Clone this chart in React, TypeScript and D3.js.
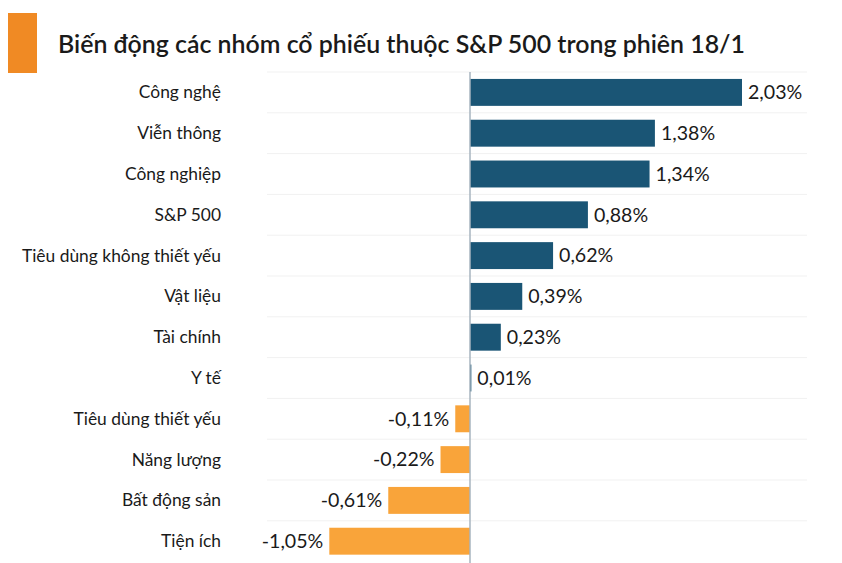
import React from "react";
import * as d3 from "d3";

const categories = [
  "Công nghệ",
  "Viễn thông",
  "Công nghiệp",
  "S&P 500",
  "Tiêu dùng không thiết yếu",
  "Vật liệu",
  "Tài chính",
  "Y tế",
  "Tiêu dùng thiết yếu",
  "Năng lượng",
  "Bất động sản",
  "Tiện ích",
];
const values = [2.03, 1.38, 1.34, 0.88, 0.62, 0.39, 0.23, 0.01, -0.11, -0.22, -0.61, -1.05];
const title = "Biến động các nhóm cổ phiếu thuộc S&P 500 trong phiên 18/1";

const W = 842;
const H = 563;
const FONT = "Lato, 'Noto Sans', sans-serif";

export default function App() {
  const zeroX = 470;
  const x = d3.scaleLinear().domain([0, 2.03]).range([zeroX, 742]);
  const y = d3
    .scaleBand<string>()
    .domain(categories)
    .range([72, 72 + 12 * 40.8])
    .paddingInner(0.34)
    .paddingOuter(0.17);
  const step = y.step();
  const fmt = (v: number) => d3.format(".2f")(v).replace(".", ",").replace("−", "-") + "%";

  return (
    <svg width={W} height={H} style={{ position: "absolute", left: 0, top: 0, background: "#fff" }}>
      <rect x={8} y={13} width={29} height={60} fill="#f08a24" />
      <text x={58} y={53} fontFamily={FONT} fontSize={24.9} fontWeight={600} fill="#1a1a1a">
        {title}
      </text>
      {categories.map((c, i) => {
        const top = 72 + i * step;
        return (
          <line key={"g" + i} x1={267} x2={807} y1={top} y2={top} stroke="#f1f1f1" strokeWidth={1} />
        );
      })}
      {categories.map((c, i) => {
        const v = values[i];
        const y0 = y(c)!;
        const bh = y.bandwidth();
        const cy = y0 + bh / 2;
        const x0 = Math.min(x(0), x(v));
        const w = Math.abs(x(v) - x(0));
        const pos = v >= 0;
        return (
          <g key={c}>
            <text
              x={221}
              y={cy}
              dy="0.35em"
              textAnchor="end"
              fontFamily={FONT}
              fontSize={17.4}
              fill="#1a1a1a"
            >
              {c}
            </text>
            <rect x={x0} y={y0} width={Math.max(w, 1)} height={bh} fill={pos ? "#1a5575" : "#f9a43a"} />
            <text
              x={pos ? x(v) + 6 : x(v) - 6}
              y={cy}
              dy="0.35em"
              textAnchor={pos ? "start" : "end"}
              fontFamily={FONT}
              fontSize={19.6}
              fill="#1a1a1a"
            >
              {fmt(v)}
            </text>
          </g>
        );
      })}
      <line x1={zeroX} x2={zeroX} y1={72} y2={H} stroke="#a7b4bf" strokeWidth={1.5} />
    </svg>
  );
}
